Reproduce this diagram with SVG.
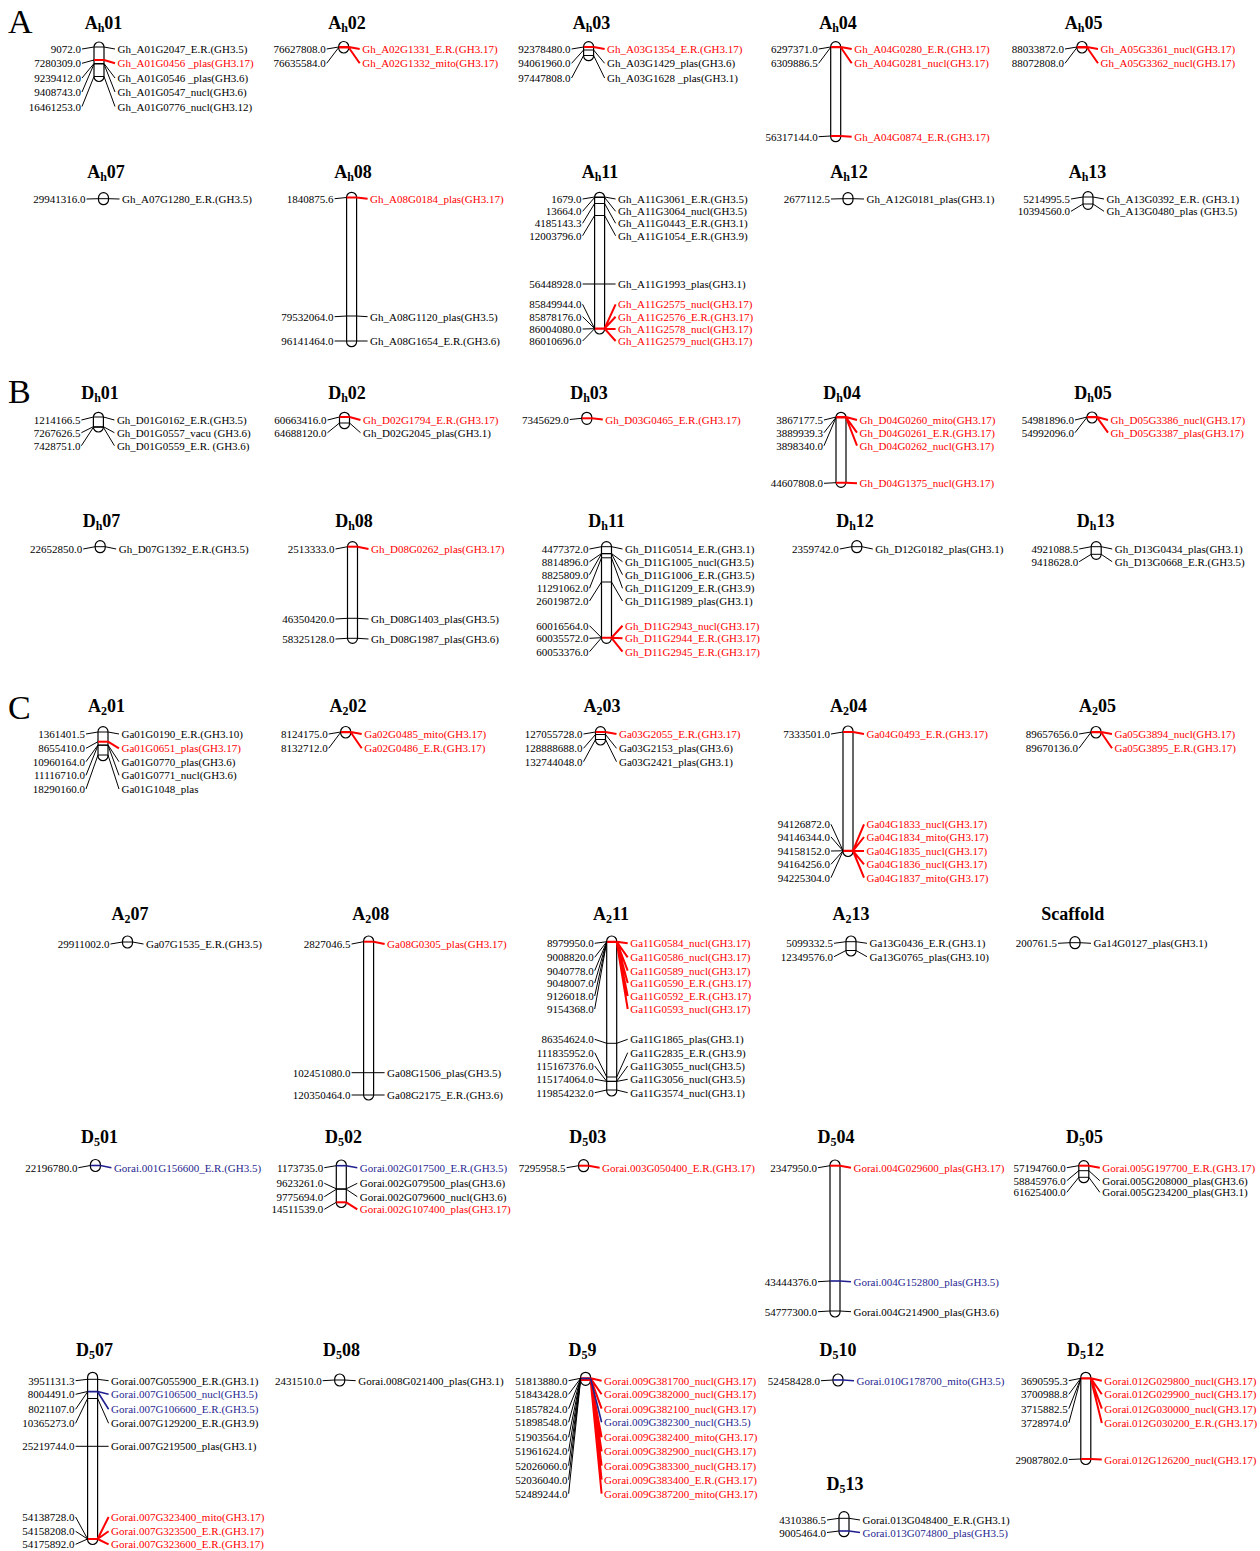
<svg xmlns="http://www.w3.org/2000/svg" width="1260" height="1551" viewBox="0 0 1260 1551">
<style>
text{font-family:"Liberation Serif","Times New Roman",serif;fill:#000}
.t{font-size:18px;font-weight:bold;text-anchor:middle}
.s{font-size:12px}
.p{font-size:34px}
.n{font-size:11px;text-anchor:end;dominant-baseline:central}
.g{font-size:11px;dominant-baseline:central}
.gr{fill:#f00}
.gb{fill:#1f1f8f}
.c{fill:#fff;stroke:#000;stroke-width:1.2}
.k{fill:none;stroke:#000;stroke-width:1}
.r{fill:none;stroke:#f00;stroke-width:2}
.b{fill:none;stroke:#1f1f8f;stroke-width:1.6}
</style>
<rect width="1260" height="1551" fill="#fff"/>
<g id="panel-labels">
<text class="p" x="8" y="33">A</text>
<text class="p" x="8" y="403">B</text>
<text class="p" x="8" y="719">C</text>
</g>
<g id="nodes">
<g id="Ah01" transform="translate(99,0)">
<text class="t" x="4.5" y="29">A<tspan class="s" dy="3">h</tspan><tspan dy="-3">01</tspan></text>
<rect class="c" x="-5" y="42" width="10" height="39.5" rx="5"/>
<path class="k" d="M-5 47H5M-5 63.5H5M-5 64H5M-5 76.5H5"/><path class="r" d="M-5 60H5"/>
<text class="n" x="-18" y="49">9072.0</text><text class="n" x="-18" y="63.3">7280309.0</text><text class="n" x="-18" y="78">9239412.0</text><text class="n" x="-18" y="92">9408743.0</text><text class="n" x="-18" y="106.5">16461253.0</text>
<text class="g" x="18.5" y="49">Gh_A01G2047_E.R.(GH3.5)</text><text class="g gr" x="18.5" y="63.3">Gh_A01G0456 _plas(GH3.17)</text><text class="g" x="18.5" y="78">Gh_A01G0546 _plas(GH3.6)</text><text class="g" x="18.5" y="92">Gh_A01G0547_nucl(GH3.6)</text><text class="g" x="18.5" y="106.5">Gh_A01G0776_nucl(GH3.12)</text>
</g>
<g id="Ah02" transform="translate(343.7,0)">
<text class="t" x="3.3" y="29">A<tspan class="s" dy="3">h</tspan><tspan dy="-3">02</tspan></text>
<rect class="c" x="-5" y="41.5" width="10" height="11.5" rx="5"/>
<path class="r" d="M-5 47H5M-5 47.5H5"/>
<text class="n" x="-18" y="49">76627808.0</text><text class="n" x="-18" y="63.3">76635584.0</text>
<text class="g gr" x="18.5" y="49">Gh_A02G1331_E.R.(GH3.17)</text><text class="g gr" x="18.5" y="63.3">Gh_A02G1332_mito(GH3.17)</text>
</g>
<g id="Ah03" transform="translate(588.6,0)">
<text class="t" x="2.9" y="29">A<tspan class="s" dy="3">h</tspan><tspan dy="-3">03</tspan></text>
<rect class="c" x="-5" y="41.7" width="10" height="19" rx="5"/>
<path class="r" d="M-5 47H5"/><path class="k" d="M-5 50H5M-5 55.5H5"/>
<text class="n" x="-18" y="49">92378480.0</text><text class="n" x="-18" y="63.3">94061960.0</text><text class="n" x="-18" y="78">97447808.0</text>
<text class="g gr" x="18.5" y="49">Gh_A03G1354_E.R.(GH3.17)</text><text class="g" x="18.5" y="63.3">Gh_A03G1429_plas(GH3.6)</text><text class="g" x="18.5" y="78">Gh_A03G1628 _plas(GH3.1)</text>
</g>
<g id="Ah04" transform="translate(835.7,0)">
<text class="t" x="2.3" y="29">A<tspan class="s" dy="3">h</tspan><tspan dy="-3">04</tspan></text>
<rect class="c" x="-5" y="41.7" width="10" height="100" rx="5"/>
<path class="r" d="M-5 47H5M-5 47.3H5M-5 136H5"/>
<text class="n" x="-18" y="49">6297371.0</text><text class="n" x="-18" y="63.3">6309886.5</text><text class="n" x="-18" y="136.7">56317144.0</text>
<text class="g gr" x="18.5" y="49">Gh_A04G0280_E.R.(GH3.17)</text><text class="g gr" x="18.5" y="63.3">Gh_A04G0281_nucl(GH3.17)</text><text class="g gr" x="18.5" y="136.7">Gh_A04G0874_E.R.(GH3.17)</text>
</g>
<g id="Ah05" transform="translate(1082,0)">
<text class="t" x="1.6" y="29">A<tspan class="s" dy="3">h</tspan><tspan dy="-3">05</tspan></text>
<rect class="c" x="-5" y="41.5" width="10" height="11.5" rx="5"/>
<path class="r" d="M-5 47H5M-5 47.5H5"/>
<text class="n" x="-18" y="49">88033872.0</text><text class="n" x="-18" y="63.3">88072808.0</text>
<text class="g gr" x="18.5" y="49">Gh_A05G3361_nucl(GH3.17)</text><text class="g gr" x="18.5" y="63.3">Gh_A05G3362_nucl(GH3.17)</text>
</g>
<g id="Ah07" transform="translate(103.5,0)">
<text class="t" x="2.5" y="177.5">A<tspan class="s" dy="3">h</tspan><tspan dy="-3">07</tspan></text>
<rect class="c" x="-5" y="192.7" width="10" height="12" rx="5"/>
<path class="k" d="M-5 198.7H5"/>
<text class="n" x="-18" y="199">29941316.0</text>
<text class="g" x="18.5" y="199">Gh_A07G1280_E.R.(GH3.5)</text>
</g>
<g id="Ah08" transform="translate(351.6,0)">
<text class="t" x="1.4" y="177.5">A<tspan class="s" dy="3">h</tspan><tspan dy="-3">08</tspan></text>
<rect class="c" x="-5" y="192.3" width="10" height="154.4" rx="5"/>
<path class="r" d="M-5 197.5H5"/><path class="k" d="M-5 316H5M-5 341H5"/>
<text class="n" x="-18" y="198.7">1840875.6</text><text class="n" x="-18" y="316.7">79532064.0</text><text class="n" x="-18" y="341">96141464.0</text>
<text class="g gr" x="18.5" y="198.7">Gh_A08G0184_plas(GH3.17)</text><text class="g" x="18.5" y="316.7">Gh_A08G1120_plas(GH3.5)</text><text class="g" x="18.5" y="341">Gh_A08G1654_E.R.(GH3.6)</text>
</g>
<g id="Ah11" transform="translate(599.6,0)">
<text class="t" x="0.4" y="177.5">A<tspan class="s" dy="3">h</tspan><tspan dy="-3">11</tspan></text>
<rect class="c" x="-5" y="192.3" width="10" height="141.7" rx="5"/>
<path class="k" d="M-5 197H5M-5 197.5H5M-5 203.5H5M-5 215.5H5M-5 284H5"/><path class="r" d="M-5 328.5H5M-5 328.7H5"/>
<text class="n" x="-18" y="199">1679.0</text><text class="n" x="-18" y="211.3">13664.0</text><text class="n" x="-18" y="223.3">4185143.3</text><text class="n" x="-18" y="235.7">12003796.0</text><text class="n" x="-18" y="284">56448928.0</text><text class="n" x="-18" y="304.3">85849944.0</text><text class="n" x="-18" y="316.7">85878176.0</text><text class="n" x="-18" y="329">86004080.0</text><text class="n" x="-18" y="341">86010696.0</text>
<text class="g" x="18.5" y="199">Gh_A11G3061_E.R.(GH3.5)</text><text class="g" x="18.5" y="211.3">Gh_A11G3064_nucl(GH3.5)</text><text class="g" x="18.5" y="223.3">Gh_A11G0443_E.R.(GH3.1)</text><text class="g" x="18.5" y="235.7">Gh_A11G1054_E.R.(GH3.9)</text><text class="g" x="18.5" y="284">Gh_A11G1993_plas(GH3.1)</text><text class="g gr" x="18.5" y="304.3">Gh_A11G2575_nucl(GH3.17)</text><text class="g gr" x="18.5" y="316.7">Gh_A11G2576_E.R.(GH3.17)</text><text class="g gr" x="18.5" y="329">Gh_A11G2578_nucl(GH3.17)</text><text class="g gr" x="18.5" y="341">Gh_A11G2579_nucl(GH3.17)</text>
</g>
<g id="Ah12" transform="translate(848,0)">
<text class="t" x="1" y="177.5">A<tspan class="s" dy="3">h</tspan><tspan dy="-3">12</tspan></text>
<rect class="c" x="-5" y="192.7" width="10" height="12" rx="5"/>
<path class="k" d="M-5 198.7H5"/>
<text class="n" x="-18" y="199">2677112.5</text>
<text class="g" x="18.5" y="199">Gh_A12G0181_plas(GH3.1)</text>
</g>
<g id="Ah13" transform="translate(1088,0)">
<text class="t" x="-0.5" y="177.5">A<tspan class="s" dy="3">h</tspan><tspan dy="-3">13</tspan></text>
<rect class="c" x="-5" y="191.7" width="10" height="17.6" rx="5"/>
<path class="k" d="M-5 197H5M-5 204H5"/>
<text class="n" x="-18" y="199">5214995.5</text><text class="n" x="-18" y="211.3">10394560.0</text>
<text class="g" x="18.5" y="199">Gh_A13G0392_E.R. (GH3.1)</text><text class="g" x="18.5" y="211.3">Gh_A13G0480_plas (GH3.5)</text>
</g>
<g id="Dh01" transform="translate(98.4,0)">
<text class="t" x="1.6" y="399">D<tspan class="s" dy="3">h</tspan><tspan dy="-3">01</tspan></text>
<rect class="c" x="-5" y="412.3" width="10" height="19.7" rx="5"/>
<path class="k" d="M-5 417H5M-5 426.7H5M-5 427.3H5"/>
<text class="n" x="-18" y="420">1214166.5</text><text class="n" x="-18" y="432.7">7267626.5</text><text class="n" x="-18" y="445.7">7428751.0</text>
<text class="g" x="18.5" y="420">Gh_D01G0162_E.R.(GH3.5)</text><text class="g" x="18.5" y="432.7">Gh_D01G0557_vacu (GH3.6)</text><text class="g" x="18.5" y="445.7">Gh_D01G0559_E.R. (GH3.6)</text>
</g>
<g id="Dh02" transform="translate(344.5,0)">
<text class="t" x="2.5" y="399">D<tspan class="s" dy="3">h</tspan><tspan dy="-3">02</tspan></text>
<rect class="c" x="-5" y="412.3" width="10" height="16.4" rx="5"/>
<path class="r" d="M-5 417H5"/><path class="k" d="M-5 423H5"/>
<text class="n" x="-18" y="420">60663416.0</text><text class="n" x="-18" y="432.7">64688120.0</text>
<text class="g gr" x="18.5" y="420">Gh_D02G1794_E.R.(GH3.17)</text><text class="g" x="18.5" y="432.7">Gh_D02G2045_plas(GH3.1)</text>
</g>
<g id="Dh03" transform="translate(586.8,0)">
<text class="t" x="2.2" y="399">D<tspan class="s" dy="3">h</tspan><tspan dy="-3">03</tspan></text>
<rect class="c" x="-5" y="412.3" width="10" height="12" rx="5"/>
<path class="r" d="M-5 418.3H5"/>
<text class="n" x="-18" y="419.5">7345629.0</text>
<text class="g gr" x="18.5" y="419.5">Gh_D03G0465_E.R.(GH3.17)</text>
</g>
<g id="Dh04" transform="translate(841,0)">
<text class="t" x="1" y="399">D<tspan class="s" dy="3">h</tspan><tspan dy="-3">04</tspan></text>
<rect class="c" x="-5" y="412.3" width="10" height="75" rx="5"/>
<path class="r" d="M-5 417H5M-5 417.3H5M-5 417.5H5M-5 482.7H5"/>
<text class="n" x="-18" y="420">3867177.5</text><text class="n" x="-18" y="432.7">3889939.3</text><text class="n" x="-18" y="445.7">3898340.0</text><text class="n" x="-18" y="483.3">44607808.0</text>
<text class="g gr" x="18.5" y="420">Gh_D04G0260_mito(GH3.17)</text><text class="g gr" x="18.5" y="432.7">Gh_D04G0261_E.R.(GH3.17)</text><text class="g gr" x="18.5" y="445.7">Gh_D04G0262_nucl(GH3.17)</text><text class="g gr" x="18.5" y="483.3">Gh_D04G1375_nucl(GH3.17)</text>
</g>
<g id="Dh05" transform="translate(1092,0)">
<text class="t" x="1" y="399">D<tspan class="s" dy="3">h</tspan><tspan dy="-3">05</tspan></text>
<rect class="c" x="-5" y="412" width="10" height="11" rx="5"/>
<path class="r" d="M-5 417H5M-5 417.3H5"/>
<text class="n" x="-18" y="420">54981896.0</text><text class="n" x="-18" y="432.7">54992096.0</text>
<text class="g gr" x="18.5" y="420">Gh_D05G3386_nucl(GH3.17)</text><text class="g gr" x="18.5" y="432.7">Gh_D05G3387_plas(GH3.17)</text>
</g>
<g id="Dh07" transform="translate(100.2,0)">
<text class="t" x="1.3" y="526.5">D<tspan class="s" dy="3">h</tspan><tspan dy="-3">07</tspan></text>
<rect class="c" x="-5" y="540.7" width="10" height="12" rx="5"/>
<path class="k" d="M-5 546.7H5"/>
<text class="n" x="-18" y="549">22652850.0</text>
<text class="g" x="18.5" y="549">Gh_D07G1392_E.R.(GH3.5)</text>
</g>
<g id="Dh08" transform="translate(352.5,0)">
<text class="t" x="1.5" y="526.5">D<tspan class="s" dy="3">h</tspan><tspan dy="-3">08</tspan></text>
<rect class="c" x="-5" y="541.7" width="10" height="101.6" rx="5"/>
<path class="r" d="M-5 546.7H5"/><path class="k" d="M-5 618.3H5M-5 638.3H5"/>
<text class="n" x="-18" y="549">2513333.0</text><text class="n" x="-18" y="619">46350420.0</text><text class="n" x="-18" y="639">58325128.0</text>
<text class="g gr" x="18.5" y="549">Gh_D08G0262_plas(GH3.17)</text><text class="g" x="18.5" y="619">Gh_D08G1403_plas(GH3.5)</text><text class="g" x="18.5" y="639">Gh_D08G1987_plas(GH3.6)</text>
</g>
<g id="Dh11" transform="translate(606.5,0)">
<text class="t" x="0.2" y="526.5">D<tspan class="s" dy="3">h</tspan><tspan dy="-3">11</tspan></text>
<rect class="c" x="-5" y="541.7" width="10" height="101.6" rx="5"/>
<path class="k" d="M-5 546.7H5M-5 553.5H5M-5 553.8H5M-5 557.8H5M-5 582H5"/><path class="r" d="M-5 637.7H5M-5 637.8H5"/>
<text class="n" x="-18" y="549">4477372.0</text><text class="n" x="-18" y="561.7">8814896.0</text><text class="n" x="-18" y="574.7">8825809.0</text><text class="n" x="-18" y="588.3">11291062.0</text><text class="n" x="-18" y="601">26019872.0</text><text class="n" x="-18" y="625.7">60016564.0</text><text class="n" x="-18" y="638.3">60035572.0</text><text class="n" x="-18" y="651.7">60053376.0</text>
<text class="g" x="18.5" y="549">Gh_D11G0514_E.R.(GH3.1)</text><text class="g" x="18.5" y="561.7">Gh_D11G1005_nucl(GH3.5)</text><text class="g" x="18.5" y="574.7">Gh_D11G1006_E.R.(GH3.5)</text><text class="g" x="18.5" y="588.3">Gh_D11G1209_E.R.(GH3.9)</text><text class="g" x="18.5" y="601">Gh_D11G1989_plas(GH3.1)</text><text class="g gr" x="18.5" y="625.7">Gh_D11G2943_nucl(GH3.17)</text><text class="g gr" x="18.5" y="638.3">Gh_D11G2944_E.R.(GH3.17)</text><text class="g gr" x="18.5" y="651.7">Gh_D11G2945_E.R.(GH3.17)</text>
</g>
<g id="Dh12" transform="translate(856.8,0)">
<text class="t" x="-1.8" y="526.5">D<tspan class="s" dy="3">h</tspan><tspan dy="-3">12</tspan></text>
<rect class="c" x="-5" y="540.7" width="10" height="12" rx="5"/>
<path class="k" d="M-5 546.7H5"/>
<text class="n" x="-18" y="549">2359742.0</text>
<text class="g" x="18.5" y="549">Gh_D12G0182_plas(GH3.1)</text>
</g>
<g id="Dh13" transform="translate(1096.2,0)">
<text class="t" x="-0.5" y="526.5">D<tspan class="s" dy="3">h</tspan><tspan dy="-3">13</tspan></text>
<rect class="c" x="-5" y="541.7" width="10" height="17.6" rx="5"/>
<path class="k" d="M-5 546.7H5M-5 554.3H5"/>
<text class="n" x="-18" y="549">4921088.5</text><text class="n" x="-18" y="561.7">9418628.0</text>
<text class="g" x="18.5" y="549">Gh_D13G0434_plas(GH3.1)</text><text class="g" x="18.5" y="561.7">Gh_D13G0668_E.R.(GH3.5)</text>
</g>
<g id="A201" transform="translate(103,0)">
<text class="t" x="3.5" y="711.5">A<tspan class="s" dy="3">2</tspan><tspan dy="-3">01</tspan></text>
<rect class="c" x="-5" y="726.7" width="10" height="34" rx="5"/>
<path class="k" d="M-5 732H5M-5 745H5M-5 745.3H5M-5 755H5"/><path class="r" d="M-5 741.7H5"/>
<text class="n" x="-18" y="734">1361401.5</text><text class="n" x="-18" y="748.3">8655410.0</text><text class="n" x="-18" y="761.7">10960164.0</text><text class="n" x="-18" y="775.3">11116710.0</text><text class="n" x="-18" y="789">18290160.0</text>
<text class="g" x="18.5" y="734">Ga01G0190_E.R.(GH3.10)</text><text class="g gr" x="18.5" y="748.3">Ga01G0651_plas(GH3.17)</text><text class="g" x="18.5" y="761.7">Ga01G0770_plas(GH3.6)</text><text class="g" x="18.5" y="775.3">Ga01G0771_nucl(GH3.6)</text><text class="g" x="18.5" y="789">Ga01G1048_plas</text>
</g>
<g id="A202" transform="translate(345.7,0)">
<text class="t" x="2.3" y="711.5">A<tspan class="s" dy="3">2</tspan><tspan dy="-3">02</tspan></text>
<rect class="c" x="-5" y="726.5" width="10" height="11.5" rx="5"/>
<path class="r" d="M-5 732H5M-5 732.3H5"/>
<text class="n" x="-18" y="734">8124175.0</text><text class="n" x="-18" y="748.3">8132712.0</text>
<text class="g gr" x="18.5" y="734">Ga02G0485_mito(GH3.17)</text><text class="g gr" x="18.5" y="748.3">Ga02G0486_E.R.(GH3.17)</text>
</g>
<g id="A203" transform="translate(600.5,0)">
<text class="t" x="1.5" y="711.5">A<tspan class="s" dy="3">2</tspan><tspan dy="-3">03</tspan></text>
<rect class="c" x="-5" y="726.7" width="10" height="18.3" rx="5"/>
<path class="r" d="M-5 732H5"/><path class="k" d="M-5 734.5H5M-5 739.5H5"/>
<text class="n" x="-18" y="734">127055728.0</text><text class="n" x="-18" y="748.3">128888688.0</text><text class="n" x="-18" y="761.7">132744048.0</text>
<text class="g gr" x="18.5" y="734">Ga03G2055_E.R.(GH3.17)</text><text class="g" x="18.5" y="748.3">Ga03G2153_plas(GH3.6)</text><text class="g" x="18.5" y="761.7">Ga03G2421_plas(GH3.1)</text>
</g>
<g id="A204" transform="translate(848,0)">
<text class="t" x="0.5" y="711.5">A<tspan class="s" dy="3">2</tspan><tspan dy="-3">04</tspan></text>
<rect class="c" x="-5" y="726" width="10" height="130.5" rx="5"/>
<path class="r" d="M-5 732H5M-5 850.7H5M-5 851H5"/>
<text class="n" x="-18" y="734">7333501.0</text><text class="n" x="-18" y="824.3">94126872.0</text><text class="n" x="-18" y="837">94146344.0</text><text class="n" x="-18" y="851">94158152.0</text><text class="n" x="-18" y="864.3">94164256.0</text><text class="n" x="-18" y="877.7">94225304.0</text>
<text class="g gr" x="18.5" y="734">Ga04G0493_E.R.(GH3.17)</text><text class="g gr" x="18.5" y="824.3">Ga04G1833_nucl(GH3.17)</text><text class="g gr" x="18.5" y="837">Ga04G1834_mito(GH3.17)</text><text class="g gr" x="18.5" y="851">Ga04G1835_nucl(GH3.17)</text><text class="g gr" x="18.5" y="864.3">Ga04G1836_nucl(GH3.17)</text><text class="g gr" x="18.5" y="877.7">Ga04G1837_mito(GH3.17)</text>
</g>
<g id="A205" transform="translate(1096,0)">
<text class="t" x="1.6" y="711.5">A<tspan class="s" dy="3">2</tspan><tspan dy="-3">05</tspan></text>
<rect class="c" x="-5" y="726.5" width="10" height="11.5" rx="5"/>
<path class="r" d="M-5 732H5M-5 732.3H5"/>
<text class="n" x="-18" y="734">89657656.0</text><text class="n" x="-18" y="748.3">89670136.0</text>
<text class="g gr" x="18.5" y="734">Ga05G3894_nucl(GH3.17)</text><text class="g gr" x="18.5" y="748.3">Ga05G3895_E.R.(GH3.17)</text>
</g>
<g id="A207" transform="translate(127.5,0)">
<text class="t" x="2.5" y="920">A<tspan class="s" dy="3">2</tspan><tspan dy="-3">07</tspan></text>
<rect class="c" x="-5" y="936" width="10" height="12" rx="5"/>
<path class="k" d="M-5 942H5"/>
<text class="n" x="-18" y="944">29911002.0</text>
<text class="g" x="18.5" y="944">Ga07G1535_E.R.(GH3.5)</text>
</g>
<g id="A208" transform="translate(368.6,0)">
<text class="t" x="2.2" y="920">A<tspan class="s" dy="3">2</tspan><tspan dy="-3">08</tspan></text>
<rect class="c" x="-5" y="936" width="10" height="164" rx="5"/>
<path class="r" d="M-5 941.7H5"/><path class="k" d="M-5 1072.7H5M-5 1095H5"/>
<text class="n" x="-18" y="944">2827046.5</text><text class="n" x="-18" y="1072.7">102451080.0</text><text class="n" x="-18" y="1095">120350464.0</text>
<text class="g gr" x="18.5" y="944">Ga08G0305_plas(GH3.17)</text><text class="g" x="18.5" y="1072.7">Ga08G1506_plas(GH3.5)</text><text class="g" x="18.5" y="1095">Ga08G2175_E.R.(GH3.6)</text>
</g>
<g id="A211" transform="translate(611.7,0)">
<text class="t" x="-0.7" y="920">A<tspan class="s" dy="3">2</tspan><tspan dy="-3">11</tspan></text>
<rect class="c" x="-5" y="936" width="10" height="160" rx="5"/>
<path class="r" d="M-5 941.7H5M-5 942H5"/><path class="k" d="M-5 1043.3H5M-5 1077H5M-5 1081.3H5M-5 1081.4H5M-5 1090H5"/>
<text class="n" x="-18" y="943.3">8979950.0</text><text class="n" x="-18" y="957.3">9008820.0</text><text class="n" x="-18" y="970.7">9040778.0</text><text class="n" x="-18" y="983">9048007.0</text><text class="n" x="-18" y="996">9126018.0</text><text class="n" x="-18" y="1009">9154368.0</text><text class="n" x="-18" y="1039.3">86354624.0</text><text class="n" x="-18" y="1052.7">111835952.0</text><text class="n" x="-18" y="1066">115167376.0</text><text class="n" x="-18" y="1079.3">115174064.0</text><text class="n" x="-18" y="1092.7">119854232.0</text>
<text class="g gr" x="18.5" y="943.3">Ga11G0584_nucl(GH3.17)</text><text class="g gr" x="18.5" y="957.3">Ga11G0586_nucl(GH3.17)</text><text class="g gr" x="18.5" y="970.7">Ga11G0589_nucl(GH3.17)</text><text class="g gr" x="18.5" y="983">Ga11G0590_E.R.(GH3.17)</text><text class="g gr" x="18.5" y="996">Ga11G0592_E.R.(GH3.17)</text><text class="g gr" x="18.5" y="1009">Ga11G0593_nucl(GH3.17)</text><text class="g" x="18.5" y="1039.3">Ga11G1865_plas(GH3.1)</text><text class="g" x="18.5" y="1052.7">Ga11G2835_E.R.(GH3.9)</text><text class="g" x="18.5" y="1066">Ga11G3055_nucl(GH3.5)</text><text class="g" x="18.5" y="1079.3">Ga11G3056_nucl(GH3.5)</text><text class="g" x="18.5" y="1092.7">Ga11G3574_nucl(GH3.1)</text>
</g>
<g id="A213" transform="translate(851,0)">
<text class="t" x="0" y="920">A<tspan class="s" dy="3">2</tspan><tspan dy="-3">13</tspan></text>
<rect class="c" x="-5" y="936" width="10" height="20" rx="5"/>
<path class="k" d="M-5 941.7H5M-5 950.5H5"/>
<text class="n" x="-18" y="943.3">5099332.5</text><text class="n" x="-18" y="956.7">12349576.0</text>
<text class="g" x="18.5" y="943.3">Ga13G0436_E.R.(GH3.1)</text><text class="g" x="18.5" y="956.7">Ga13G0765_plas(GH3.10)</text>
</g>
<g id="Scaffold" transform="translate(1075,0)">
<text class="t" x="-2.2" y="920">Scaffold</text>
<rect class="c" x="-5" y="936.7" width="10" height="12" rx="5"/>
<path class="k" d="M-5 942.7H5"/>
<text class="n" x="-18" y="943.3">200761.5</text>
<text class="g" x="18.5" y="943.3">Ga14G0127_plas(GH3.1)</text>
</g>
<g id="D501" transform="translate(95.4,0)">
<text class="t" x="4.2" y="1143">D<tspan class="s" dy="3">5</tspan><tspan dy="-3">01</tspan></text>
<rect class="c" x="-5" y="1159.5" width="10" height="12" rx="5"/>
<path class="b" d="M-5 1165.5H5"/>
<text class="n" x="-18" y="1167.7">22196780.0</text>
<text class="g gb" x="18.5" y="1167.7">Gorai.001G156600_E.R.(GH3.5)</text>
</g>
<g id="D502" transform="translate(341.3,0)">
<text class="t" x="2.2" y="1143">D<tspan class="s" dy="3">5</tspan><tspan dy="-3">02</tspan></text>
<rect class="c" x="-5" y="1160" width="10" height="47.5" rx="5"/>
<path class="b" d="M-5 1165.7H5"/><path class="k" d="M-5 1188.8H5M-5 1189.3H5"/><path class="r" d="M-5 1202.3H5"/>
<text class="n" x="-18" y="1167.7">1173735.0</text><text class="n" x="-18" y="1183.3">9623261.0</text><text class="n" x="-18" y="1196.7">9775694.0</text><text class="n" x="-18" y="1209.3">14511539.0</text>
<text class="g gb" x="18.5" y="1167.7">Gorai.002G017500_E.R.(GH3.5)</text><text class="g" x="18.5" y="1183.3">Gorai.002G079500_plas(GH3.6)</text><text class="g" x="18.5" y="1196.7">Gorai.002G079600_nucl(GH3.6)</text><text class="g gr" x="18.5" y="1209.3">Gorai.002G107400_plas(GH3.17)</text>
</g>
<g id="D503" transform="translate(583.6,0)">
<text class="t" x="4.2" y="1143">D<tspan class="s" dy="3">5</tspan><tspan dy="-3">03</tspan></text>
<rect class="c" x="-5" y="1159.7" width="10" height="12" rx="5"/>
<path class="r" d="M-5 1165.7H5"/>
<text class="n" x="-18" y="1167.7">7295958.5</text>
<text class="g gr" x="18.5" y="1167.7">Gorai.003G050400_E.R.(GH3.17)</text>
</g>
<g id="D504" transform="translate(835,0)">
<text class="t" x="1" y="1143">D<tspan class="s" dy="3">5</tspan><tspan dy="-3">04</tspan></text>
<rect class="c" x="-5" y="1160" width="10" height="157" rx="5"/>
<path class="r" d="M-5 1165.7H5"/><path class="b" d="M-5 1281H5"/><path class="k" d="M-5 1311H5"/>
<text class="n" x="-18" y="1167.7">2347950.0</text><text class="n" x="-18" y="1281.7">43444376.0</text><text class="n" x="-18" y="1311.7">54777300.0</text>
<text class="g gr" x="18.5" y="1167.7">Gorai.004G029600_plas(GH3.17)</text><text class="g gb" x="18.5" y="1281.7">Gorai.004G152800_plas(GH3.5)</text><text class="g" x="18.5" y="1311.7">Gorai.004G214900_plas(GH3.6)</text>
</g>
<g id="D505" transform="translate(1083.8,0)">
<text class="t" x="0.7" y="1143">D<tspan class="s" dy="3">5</tspan><tspan dy="-3">05</tspan></text>
<rect class="c" x="-5" y="1160.7" width="10" height="22" rx="5"/>
<path class="r" d="M-5 1165.7H5"/><path class="k" d="M-5 1170.7H5M-5 1177.3H5"/>
<text class="n" x="-18" y="1167.7">57194760.0</text><text class="n" x="-18" y="1180.7">58845976.0</text><text class="n" x="-18" y="1192.3">61625400.0</text>
<text class="g gr" x="18.5" y="1167.7">Gorai.005G197700_E.R.(GH3.17)</text><text class="g" x="18.5" y="1180.7">Gorai.005G208000_plas(GH3.6)</text><text class="g" x="18.5" y="1192.3">Gorai.005G234200_plas(GH3.1)</text>
</g>
<g id="D507" transform="translate(92.6,0)">
<text class="t" x="1.8" y="1356">D<tspan class="s" dy="3">5</tspan><tspan dy="-3">07</tspan></text>
<rect class="c" x="-5" y="1372.3" width="10" height="172.2" rx="5"/>
<path class="k" d="M-5 1379.3H5M-5 1398.5H5M-5 1446.3H5"/><path class="b" d="M-5 1391.5H5M-5 1391.8H5"/><path class="r" d="M-5 1539H5"/>
<text class="n" x="-18" y="1380.7">3951131.3</text><text class="n" x="-18" y="1394.3">8004491.0</text><text class="n" x="-18" y="1409.3">8021107.0</text><text class="n" x="-18" y="1423.3">10365273.0</text><text class="n" x="-18" y="1446.3">25219744.0</text><text class="n" x="-18" y="1517">54138728.0</text><text class="n" x="-18" y="1531.3">54158208.0</text><text class="n" x="-18" y="1544.3">54175892.0</text>
<text class="g" x="18.5" y="1380.7">Gorai.007G055900_E.R.(GH3.1)</text><text class="g gb" x="18.5" y="1394.3">Gorai.007G106500_nucl(GH3.5)</text><text class="g gb" x="18.5" y="1409.3">Gorai.007G106600_E.R.(GH3.5)</text><text class="g" x="18.5" y="1423.3">Gorai.007G129200_E.R.(GH3.9)</text><text class="g" x="18.5" y="1446.3">Gorai.007G219500_plas(GH3.1)</text><text class="g gr" x="18.5" y="1517">Gorai.007G323400_mito(GH3.17)</text><text class="g gr" x="18.5" y="1531.3">Gorai.007G323500_E.R.(GH3.17)</text><text class="g gr" x="18.5" y="1544.3">Gorai.007G323600_E.R.(GH3.17)</text>
</g>
<g id="D508" transform="translate(339.7,0)">
<text class="t" x="1.8" y="1356">D<tspan class="s" dy="3">5</tspan><tspan dy="-3">08</tspan></text>
<rect class="c" x="-5" y="1374" width="10" height="12" rx="5"/>
<path class="k" d="M-5 1380H5"/>
<text class="n" x="-18" y="1380.7">2431510.0</text>
<text class="g" x="18.5" y="1380.7">Gorai.008G021400_plas(GH3.1)</text>
</g>
<g id="D59" transform="translate(585.6,0)">
<text class="t" x="-3" y="1356">D<tspan class="s" dy="3">5</tspan><tspan dy="-3">9</tspan></text>
<rect class="c" x="-5" y="1372.3" width="10" height="13" rx="5"/>
<path class="r" d="M-5 1378.3H5M-5 1378.8H5M-5 1380H5"/><path class="b" d="M-5 1378.5H5"/>
<text class="n" x="-18" y="1380.7">51813880.0</text><text class="n" x="-18" y="1394.3">51843428.0</text><text class="n" x="-18" y="1408.7">51857824.0</text><text class="n" x="-18" y="1422.3">51898548.0</text><text class="n" x="-18" y="1437.3">51903564.0</text><text class="n" x="-18" y="1451.3">51961624.0</text><text class="n" x="-18" y="1465.7">52026060.0</text><text class="n" x="-18" y="1479.7">52036040.0</text><text class="n" x="-18" y="1493.7">52489244.0</text>
<text class="g gr" x="18.5" y="1380.7">Gorai.009G381700_nucl(GH3.17)</text><text class="g gr" x="18.5" y="1394.3">Gorai.009G382000_nucl(GH3.17)</text><text class="g gr" x="18.5" y="1408.7">Gorai.009G382100_nucl(GH3.17)</text><text class="g gb" x="18.5" y="1422.3">Gorai.009G382300_nucl(GH3.5)</text><text class="g gr" x="18.5" y="1437.3">Gorai.009G382400_mito(GH3.17)</text><text class="g gr" x="18.5" y="1451.3">Gorai.009G382900_nucl(GH3.17)</text><text class="g gr" x="18.5" y="1465.7">Gorai.009G383300_nucl(GH3.17)</text><text class="g gr" x="18.5" y="1479.7">Gorai.009G383400_E.R.(GH3.17)</text><text class="g gr" x="18.5" y="1493.7">Gorai.009G387200_mito(GH3.17)</text>
</g>
<g id="D510" transform="translate(838,0)">
<text class="t" x="0" y="1356">D<tspan class="s" dy="3">5</tspan><tspan dy="-3">10</tspan></text>
<rect class="c" x="-5" y="1374" width="10" height="12" rx="5"/>
<path class="b" d="M-5 1380H5"/>
<text class="n" x="-18" y="1380.7">52458428.0</text>
<text class="g gb" x="18.5" y="1380.7">Gorai.010G178700_mito(GH3.5)</text>
</g>
<g id="D512" transform="translate(1085.8,0)">
<text class="t" x="-0.2" y="1356">D<tspan class="s" dy="3">5</tspan><tspan dy="-3">12</tspan></text>
<rect class="c" x="-5" y="1372.3" width="10" height="92.2" rx="5"/>
<path class="r" d="M-5 1378.3H5M-5 1378.4H5M-5 1459H5"/>
<text class="n" x="-18" y="1380.7">3690595.3</text><text class="n" x="-18" y="1394.3">3700988.8</text><text class="n" x="-18" y="1408.7">3715882.5</text><text class="n" x="-18" y="1423">3728974.0</text><text class="n" x="-18" y="1459.5">29087802.0</text>
<text class="g gr" x="18.5" y="1380.7">Gorai.012G029800_nucl(GH3.17)</text><text class="g gr" x="18.5" y="1394.3">Gorai.012G029900_nucl(GH3.17)</text><text class="g gr" x="18.5" y="1408.7">Gorai.012G030000_nucl(GH3.17)</text><text class="g gr" x="18.5" y="1423">Gorai.012G030200_E.R.(GH3.17)</text><text class="g gr" x="18.5" y="1459.5">Gorai.012G126200_nucl(GH3.17)</text>
</g>
<g id="D513" transform="translate(844,0)">
<text class="t" x="1" y="1489.5">D<tspan class="s" dy="3">5</tspan><tspan dy="-3">13</tspan></text>
<rect class="c" x="-5" y="1511.7" width="10" height="25" rx="5"/>
<path class="k" d="M-5 1518.3H5"/><path class="b" d="M-5 1531H5"/>
<text class="n" x="-18" y="1520">4310386.5</text><text class="n" x="-18" y="1532.5">9005464.0</text>
<text class="g" x="18.5" y="1520">Gorai.013G048400_E.R.(GH3.1)</text><text class="g gb" x="18.5" y="1532.5">Gorai.013G074800_plas(GH3.5)</text>
</g>
</g>
<g id="connectors">
<g transform="translate(99,0)"><path class="k" d="M-17 49L-5 47M-17 63.3L-5 60M-17 78L-5 63.5M-17 92L-5 64M-17 106.5L-5 76.5M5 47L16 49M5 63.5L16 78M5 64L16 92M5 76.5L16 106.5"/><path class="r" d="M5 60L16 63.3"/></g>
<g transform="translate(343.7,0)"><path class="k" d="M-17 49L-5 47M-17 63.3L-5 47.5"/><path class="r" d="M5 47L16 49M5 47.5L16 63.3"/></g>
<g transform="translate(588.6,0)"><path class="k" d="M-17 49L-5 47M-17 63.3L-5 50M-17 78L-5 55.5M5 50L16 63.3M5 55.5L16 78"/><path class="r" d="M5 47L16 49"/></g>
<g transform="translate(835.7,0)"><path class="k" d="M-17 49L-5 47M-17 63.3L-5 47.3M-17 136.7L-5 136"/><path class="r" d="M5 47L16 49M5 47.3L16 63.3M5 136L16 136.7"/></g>
<g transform="translate(1082,0)"><path class="k" d="M-17 49L-5 47M-17 63.3L-5 47.5"/><path class="r" d="M5 47L16 49M5 47.5L16 63.3"/></g>
<g transform="translate(103.5,0)"><path class="k" d="M-17 199L-5 198.7M5 198.7L16 199"/></g>
<g transform="translate(351.6,0)"><path class="k" d="M-17 198.7L-5 197.5M-17 316.7L-5 316M-17 341L-5 341M5 316L16 316.7M5 341L16 341"/><path class="r" d="M5 197.5L16 198.7"/></g>
<g transform="translate(599.6,0)"><path class="k" d="M-17 199L-5 197M-17 211.3L-5 197.5M-17 223.3L-5 203.5M-17 235.7L-5 215.5M-17 284L-5 284M-17 304.3L-5 328.5M-17 316.7L-5 328.5M-17 329L-5 328.7M-17 341L-5 328.7M5 197L16 199M5 197.5L16 211.3M5 203.5L16 223.3M5 215.5L16 235.7M5 284L16 284"/><path class="r" d="M5 328.5L16 304.3M5 328.5L16 316.7M5 328.7L16 329M5 328.7L16 341"/></g>
<g transform="translate(848,0)"><path class="k" d="M-17 199L-5 198.7M5 198.7L16 199"/></g>
<g transform="translate(1088,0)"><path class="k" d="M-17 199L-5 197M-17 211.3L-5 204M5 197L16 199M5 204L16 211.3"/></g>
<g transform="translate(98.4,0)"><path class="k" d="M-17 420L-5 417M-17 432.7L-5 426.7M-17 445.7L-5 427.3M5 417L16 420M5 426.7L16 432.7M5 427.3L16 445.7"/></g>
<g transform="translate(344.5,0)"><path class="k" d="M-17 420L-5 417M-17 432.7L-5 423M5 423L16 432.7"/><path class="r" d="M5 417L16 420"/></g>
<g transform="translate(586.8,0)"><path class="k" d="M-17 419.5L-5 418.3"/><path class="r" d="M5 418.3L16 419.5"/></g>
<g transform="translate(841,0)"><path class="k" d="M-17 420L-5 417M-17 432.7L-5 417.3M-17 445.7L-5 417.5M-17 483.3L-5 482.7"/><path class="r" d="M5 417L16 420M5 417.3L16 432.7M5 417.5L16 445.7M5 482.7L16 483.3"/></g>
<g transform="translate(1092,0)"><path class="k" d="M-17 420L-5 417M-17 432.7L-5 417.3"/><path class="r" d="M5 417L16 420M5 417.3L16 432.7"/></g>
<g transform="translate(100.2,0)"><path class="k" d="M-17 549L-5 546.7M5 546.7L16 549"/></g>
<g transform="translate(352.5,0)"><path class="k" d="M-17 549L-5 546.7M-17 619L-5 618.3M-17 639L-5 638.3M5 618.3L16 619M5 638.3L16 639"/><path class="r" d="M5 546.7L16 549"/></g>
<g transform="translate(606.5,0)"><path class="k" d="M-17 549L-5 546.7M-17 561.7L-5 553.5M-17 574.7L-5 553.8M-17 588.3L-5 557.8M-17 601L-5 582M-17 625.7L-5 637.7M-17 638.3L-5 637.7M-17 651.7L-5 637.8M5 546.7L16 549M5 553.5L16 561.7M5 553.8L16 574.7M5 557.8L16 588.3M5 582L16 601"/><path class="r" d="M5 637.7L16 625.7M5 637.7L16 638.3M5 637.8L16 651.7"/></g>
<g transform="translate(856.8,0)"><path class="k" d="M-17 549L-5 546.7M5 546.7L16 549"/></g>
<g transform="translate(1096.2,0)"><path class="k" d="M-17 549L-5 546.7M-17 561.7L-5 554.3M5 546.7L16 549M5 554.3L16 561.7"/></g>
<g transform="translate(103,0)"><path class="k" d="M-17 734L-5 732M-17 748.3L-5 741.7M-17 761.7L-5 745M-17 775.3L-5 745.3M-17 789L-5 755M5 732L16 734M5 745L16 761.7M5 745.3L16 775.3M5 755L16 789"/><path class="r" d="M5 741.7L16 748.3"/></g>
<g transform="translate(345.7,0)"><path class="k" d="M-17 734L-5 732M-17 748.3L-5 732.3"/><path class="r" d="M5 732L16 734M5 732.3L16 748.3"/></g>
<g transform="translate(600.5,0)"><path class="k" d="M-17 734L-5 732M-17 748.3L-5 734.5M-17 761.7L-5 739.5M5 734.5L16 748.3M5 739.5L16 761.7"/><path class="r" d="M5 732L16 734"/></g>
<g transform="translate(848,0)"><path class="k" d="M-17 734L-5 732M-17 824.3L-5 850.7M-17 837L-5 850.8M-17 851L-5 850.8M-17 864.3L-5 850.9M-17 877.7L-5 851"/><path class="r" d="M5 732L16 734M5 850.7L16 824.3M5 850.8L16 837M5 850.8L16 851M5 850.9L16 864.3M5 851L16 877.7"/></g>
<g transform="translate(1096,0)"><path class="k" d="M-17 734L-5 732M-17 748.3L-5 732.3"/><path class="r" d="M5 732L16 734M5 732.3L16 748.3"/></g>
<g transform="translate(127.5,0)"><path class="k" d="M-17 944L-5 942M5 942L16 944"/></g>
<g transform="translate(368.6,0)"><path class="k" d="M-17 944L-5 941.7M-17 1072.7L-5 1072.7M-17 1095L-5 1095M5 1072.7L16 1072.7M5 1095L16 1095"/><path class="r" d="M5 941.7L16 944"/></g>
<g transform="translate(611.7,0)"><path class="k" d="M-17 943.3L-5 941.7M-17 957.3L-5 941.8M-17 970.7L-5 941.8M-17 983L-5 941.8M-17 996L-5 941.9M-17 1009L-5 942M-17 1039.3L-5 1043.3M-17 1052.7L-5 1077M-17 1066L-5 1081.3M-17 1079.3L-5 1081.4M-17 1092.7L-5 1090M5 1043.3L16 1039.3M5 1077L16 1052.7M5 1081.3L16 1066M5 1081.4L16 1079.3M5 1090L16 1092.7"/><path class="r" d="M5 941.7L16 943.3M5 941.8L16 957.3M5 941.8L16 970.7M5 941.8L16 983M5 941.9L16 996M5 942L16 1009"/></g>
<g transform="translate(851,0)"><path class="k" d="M-17 943.3L-5 941.7M-17 956.7L-5 950.5M5 941.7L16 943.3M5 950.5L16 956.7"/></g>
<g transform="translate(1075,0)"><path class="k" d="M-17 943.3L-5 942.7M5 942.7L16 943.3"/></g>
<g transform="translate(95.4,0)"><path class="k" d="M-17 1167.7L-5 1165.5"/><path class="b" d="M5 1165.5L16 1167.7"/></g>
<g transform="translate(341.3,0)"><path class="k" d="M-17 1167.7L-5 1165.7M-17 1183.3L-5 1188.8M-17 1196.7L-5 1189.3M-17 1209.3L-5 1202.3M5 1188.8L16 1183.3M5 1189.3L16 1196.7"/><path class="b" d="M5 1165.7L16 1167.7"/><path class="r" d="M5 1202.3L16 1209.3"/></g>
<g transform="translate(583.6,0)"><path class="k" d="M-17 1167.7L-5 1165.7"/><path class="r" d="M5 1165.7L16 1167.7"/></g>
<g transform="translate(835,0)"><path class="k" d="M-17 1167.7L-5 1165.7M-17 1281.7L-5 1281M-17 1311.7L-5 1311M5 1311L16 1311.7"/><path class="r" d="M5 1165.7L16 1167.7"/><path class="b" d="M5 1281L16 1281.7"/></g>
<g transform="translate(1083.8,0)"><path class="k" d="M-17 1167.7L-5 1165.7M-17 1180.7L-5 1170.7M-17 1192.3L-5 1177.3M5 1170.7L16 1180.7M5 1177.3L16 1192.3"/><path class="r" d="M5 1165.7L16 1167.7"/></g>
<g transform="translate(92.6,0)"><path class="k" d="M-17 1380.7L-5 1379.3M-17 1394.3L-5 1391.5M-17 1409.3L-5 1391.8M-17 1423.3L-5 1398.5M-17 1446.3L-5 1446.3M-17 1517L-5 1539M-17 1531.3L-5 1539M-17 1544.3L-5 1539M5 1379.3L16 1380.7M5 1398.5L16 1423.3M5 1446.3L16 1446.3"/><path class="b" d="M5 1391.5L16 1394.3M5 1391.8L16 1409.3"/><path class="r" d="M5 1539L16 1517M5 1539L16 1531.3M5 1539L16 1544.3"/></g>
<g transform="translate(339.7,0)"><path class="k" d="M-17 1380.7L-5 1380M5 1380L16 1380.7"/></g>
<g transform="translate(585.6,0)"><path class="k" d="M-17 1380.7L-5 1378.3M-17 1394.3L-5 1378.4M-17 1408.7L-5 1378.4M-17 1422.3L-5 1378.5M-17 1437.3L-5 1378.5M-17 1451.3L-5 1378.6M-17 1465.7L-5 1378.8M-17 1479.7L-5 1378.8M-17 1493.7L-5 1380"/><path class="r" d="M5 1378.3L16 1380.7M5 1378.4L16 1394.3M5 1378.4L16 1408.7M5 1378.5L16 1437.3M5 1378.6L16 1451.3M5 1378.8L16 1465.7M5 1378.8L16 1479.7M5 1380L16 1493.7"/><path class="b" d="M5 1378.5L16 1422.3"/></g>
<g transform="translate(838,0)"><path class="k" d="M-17 1380.7L-5 1380"/><path class="b" d="M5 1380L16 1380.7"/></g>
<g transform="translate(1085.8,0)"><path class="k" d="M-17 1380.7L-5 1378.3M-17 1394.3L-5 1378.3M-17 1408.7L-5 1378.4M-17 1423L-5 1378.4M-17 1459.5L-5 1459"/><path class="r" d="M5 1378.3L16 1380.7M5 1378.3L16 1394.3M5 1378.4L16 1408.7M5 1378.4L16 1423M5 1459L16 1459.5"/></g>
<g transform="translate(844,0)"><path class="k" d="M-17 1520L-5 1518.3M-17 1532.5L-5 1531M5 1518.3L16 1520"/><path class="b" d="M5 1531L16 1532.5"/></g>
</g>
</svg>
